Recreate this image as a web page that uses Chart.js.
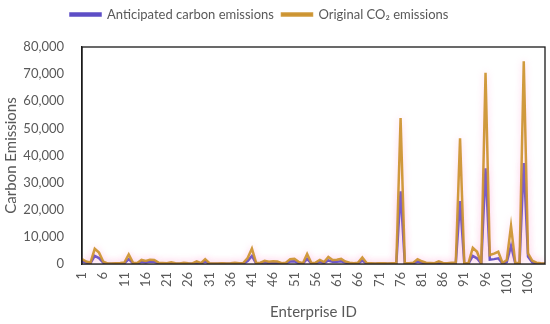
<!DOCTYPE html>
<html>
<head>
<meta charset="utf-8">
<script src="https://cdn.jsdelivr.net/npm/chart.js@4"></script>
<style>
  html, body { margin: 0; padding: 0; background: #fff; }
  #wrap { width: 550px; height: 324px; }
</style>
</head>
<body>
<div id="wrap"><canvas id="chart" width="550" height="324"></canvas></div>
<script>
// enterprise ids 1..110
const enterpriseIds = Array.from({ length: 110 }, (_, i) => String(i + 1));

const anticipated = [
    1000, 500, 300, 3000, 2200, 500, 100, 100, 150, 200,
    300, 1800, 300, 200, 800, 600, 900, 800, 300, 200,
    150, 300, 150, 100, 300, 150, 100, 500, 150, 1000,
    150, 100, 100, 150, 100, 150, 300, 150, 200, 1100,
    3000, 200, 300, 600, 400, 500, 500, 150, 300, 900,
    1000, 400, 150, 1900, 200, 300, 800, 400, 1300, 800,
    800, 1000, 500, 300, 150, 300, 1200, 200, 150, 100,
    150, 150, 100, 150, 200, 26800, 200, 150, 300, 900,
    500, 300, 200, 150, 500, 200, 150, 300, 300, 23200,
    150, 200, 3000, 2100, 150, 35300, 1600, 1800, 2100, 200,
    700, 6700, 300, 150, 37200, 2700, 600, 300, 150, 100
];

const original = [
    1800, 900, 500, 5600, 4200, 900, 200, 150, 300, 400,
    600, 3500, 500, 400, 1500, 1100, 1600, 1500, 500, 400,
    300, 600, 300, 200, 500, 300, 200, 1000, 300, 1800,
    300, 200, 200, 300, 200, 300, 500, 300, 400, 2200,
    5700, 400, 500, 1200, 800, 1000, 900, 300, 500, 1800,
    1900, 800, 300, 3700, 400, 500, 1500, 700, 2600, 1500,
    1600, 1900, 900, 500, 300, 500, 2400, 400, 300, 200,
    300, 300, 200, 300, 400, 53800, 400, 300, 500, 1800,
    1000, 500, 400, 300, 1000, 400, 300, 500, 600, 46300,
    300, 400, 6000, 4500, 300, 70500, 3300, 3800, 4500, 400,
    1500, 14000, 500, 300, 74700, 3900, 1200, 500, 300, 200
];

const yMax = 80000;
const yStep = 10000;

const textColor = '#595959';
const font = '"Lato", "Open Sans", sans-serif';

// soft pink glow under the lines
const glow = {
    id: 'glow',
    beforeDatasetDraw(chart) {
        const ctx = chart.ctx;
        ctx.save();
        ctx.shadowColor = 'rgba(255, 160, 210, 0.5)';
        ctx.shadowBlur = 7;
    },
    afterDatasetDraw(chart) {
        chart.ctx.restore();
    }
};

// frame around the plot area
const frame = {
    id: 'frame',
    afterDraw(chart) {
        const { ctx, chartArea: a } = chart;
        ctx.save();
        ctx.strokeStyle = '#1a1a1a';
        ctx.lineWidth = 1.3;
        ctx.strokeRect(a.left, a.top, a.right - a.left, a.bottom - a.top);
        ctx.restore();
    }
};

// legend: extra gap below it, and sit a bit left of centre like the original
const legendTweak = {
    id: 'legendTweak',
    beforeInit(chart) {
        const fit = chart.legend.fit;
        chart.legend.fit = function () {
            fit.bind(this)();
            this.height += 16;
        };
    },
    afterLayout(chart) {
        chart.legend.left -= 13;
        chart.legend.right -= 13;
    }
};

new Chart(document.getElementById('chart'), {
    type: 'line',
    data: {
        labels: enterpriseIds,
        datasets: [
            {
                label: 'Anticipated carbon emissions',
                data: anticipated,
                borderColor: '#5d4ec6',
                backgroundColor: '#4b5bb0',
                borderWidth: 2.5,
                pointRadius: 0,
                tension: 0,
                order: 1
            },
            {
                label: 'Original CO\u2082 emissions',
                data: original,
                borderColor: 'rgba(204, 146, 46, 0.92)',
                backgroundColor: '#c9963e',
                borderWidth: 2.5,
                pointRadius: 0,
                tension: 0,
                order: 0
            }
        ]
    },
    options: {
        responsive: false,
        animation: false,
        layout: { padding: { left: 0, right: 5, top: 0, bottom: 0 } },
        plugins: {
            legend: {
                position: 'top',
                labels: {
                    boxWidth: 30,
                    boxHeight: 2,
                    padding: 8,
                    color: textColor,
                    font: { family: font, size: 13 },
                    sort: (a, b) => a.datasetIndex - b.datasetIndex
                }
            },
            tooltip: { enabled: false }
        },
        scales: {
            x: {
                offset: false,
                grid: { display: false, drawTicks: false },
                border: { display: true, color: '#bfbfbf' },
                ticks: {
                    autoSkip: false,
                    minRotation: 90,
                    maxRotation: 90,
                    padding: 8,
                    color: textColor,
                    font: { family: font, size: 13 },
                    callback: (v, i) => (i % 5 === 0 ? enterpriseIds[i] : '')
                },
                title: {
                    display: true,
                    text: 'Enterprise ID',
                    color: textColor,
                    font: { family: font, size: 15 },
                    padding: { top: 2, bottom: 3 }
                },
                afterFit: s => {
                    s.height = 60;
                    s.paddingLeft = 0;
                    s.paddingRight = 0;
                }
            },
            y: {
                min: 0,
                max: yMax,
                grid: { display: false, drawTicks: false },
                border: { display: true, color: '#1a1a1a', width: 1.3 },
                ticks: {
                    stepSize: yStep,
                    padding: 18,
                    color: textColor,
                    font: { family: font, size: 13 },
                    callback: v => v.toLocaleString('en-US')
                },
                title: {
                    display: true,
                    text: 'Carbon Emissions',
                    color: textColor,
                    font: { family: font, size: 15 },
                    padding: { top: 2, bottom: 2 }
                },
                afterFit: s => { s.width = 82; }
            }
        }
    },
    plugins: [glow, frame, legendTweak]
});
</script>
</body>
</html>
